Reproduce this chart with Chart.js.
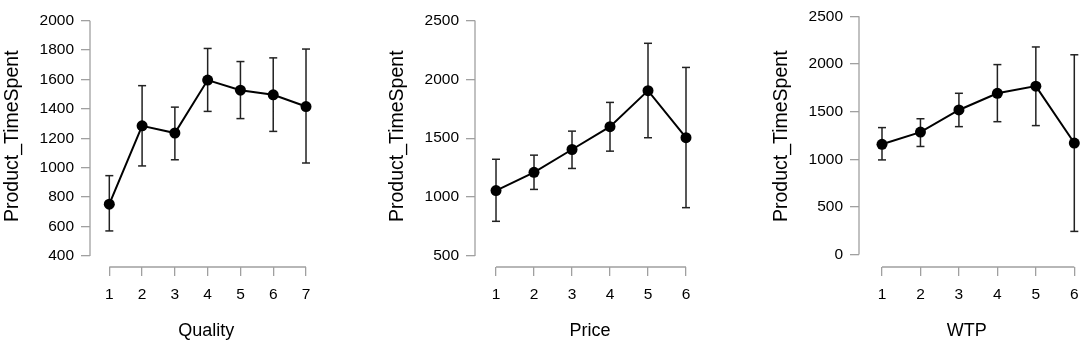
<!DOCTYPE html>
<html>
<head>
<meta charset="utf-8">
<script src="https://cdn.jsdelivr.net/npm/chart.js@4/dist/chart.umd.min.js"></script>
<style>
  body { margin: 0; background: #fff; }
  .panel { position: absolute; top: 0; height: 342px; }
</style>
</head>
<body>
<div class="panel" style="left:0px"><canvas id="quality" width="360" height="342"></canvas></div>
<div class="panel" style="left:385px"><canvas id="price" width="370" height="342"></canvas></div>
<div class="panel" style="left:769px"><canvas id="wtp" width="315" height="342"></canvas></div>
<script>
// data: group means and error bar ends
const qualityLevels = [1, 2, 3, 4, 5, 6, 7];
const qualityMeans = [752, 1285, 1236, 1596, 1527, 1496, 1416];
const qualityLower = [570, 1012, 1054, 1383, 1334, 1247, 1032];
const qualityUpper = [946, 1558, 1412, 1811, 1722, 1747, 1807];
const qualityTicks = [400, 600, 800, 1000, 1200, 1400, 1600, 1800, 2000];

const priceLevels = [1, 2, 3, 4, 5, 6];
const priceMeans = [1055, 1210, 1404, 1598, 1904, 1504];
const priceLower = [794, 1065, 1243, 1390, 1504, 910];
const priceUpper = [1321, 1356, 1560, 1804, 2306, 2101];
const priceTicks = [500, 1000, 1500, 2000, 2500];

const wtpLevels = [1, 2, 3, 4, 5, 6];
const wtpMeans = [1157, 1285, 1517, 1692, 1767, 1170];
const wtpLower = [993, 1134, 1342, 1394, 1353, 243];
const wtpUpper = [1332, 1425, 1692, 1993, 2178, 2096];
const wtpTicks = [0, 500, 1000, 1500, 2000, 2500];

const yTitle = 'Product_TimeSpent';
const axisGray = '#a0a0a0';

Chart.defaults.font.family = '"Liberation Sans", Arial, sans-serif';
Chart.defaults.color = '#000';

// R style axis: the line only runs from first to last tick
const axisLines = {
  id: 'axisLines',
  beforeDatasetsDraw(chart) {
    const { ctx, chartArea, scales: { x, y } } = chart;
    const xt = x.ticks, yt = y.ticks;
    ctx.save();
    ctx.strokeStyle = axisGray;
    ctx.lineWidth = 1.3;
    ctx.beginPath();
    ctx.moveTo(chartArea.left, y.getPixelForValue(yt[0].value));
    ctx.lineTo(chartArea.left, y.getPixelForValue(yt[yt.length - 1].value));
    ctx.moveTo(x.getPixelForValue(xt[0].value), chartArea.bottom);
    ctx.lineTo(x.getPixelForValue(xt[xt.length - 1].value), chartArea.bottom);
    ctx.stroke();
    ctx.restore();
  }
};

function makePanel(id, levels, means, lower, upper, yTicks, xTitle, lay) {
  // error bars: one dataset, each bar a two point segment split by a gap
  const errData = [];
  levels.forEach((v, i) => {
    errData.push({ x: v, y: lower[i] }, { x: v, y: upper[i] }, { x: v, y: null });
  });

  return new Chart(document.getElementById(id), {
    type: 'line',
    data: {
      datasets: [{
        data: levels.map((v, i) => ({ x: v, y: means[i] })),
        borderColor: '#000',
        borderWidth: 2,
        pointRadius: 5.5,
        pointBackgroundColor: '#000',
        pointBorderWidth: 0,
        tension: 0,
        clip: false,
        order: 0
      }, {
        data: errData,
        borderColor: '#222',
        borderWidth: 1.5,
        spanGaps: false,
        pointStyle: 'line',
        pointRadius: 4,
        pointBorderColor: '#222',
        pointBorderWidth: 1.5,
        clip: false,
        order: 1
      }]
    },
    options: {
      responsive: false,
      animation: false,
      devicePixelRatio: 1,
      layout: { padding: { left: 0, top: 0, bottom: 0, right: lay.padRight } },
      plugins: { legend: { display: false }, tooltip: { enabled: false } },
      scales: {
        x: {
          type: 'linear',
          min: lay.xMin,
          max: lay.xMax,
          afterBuildTicks: s => { s.ticks = levels.map(v => ({ value: v })); },
          afterFit: s => { s.height = 75; s.paddingLeft = 0; s.paddingRight = 0; },
          ticks: { font: { size: 15.5 }, padding: 9, maxRotation: 0, autoSkip: false, callback: v => String(v) },
          grid: { drawOnChartArea: false, drawTicks: true, tickLength: 9, color: axisGray, lineWidth: 1.3 },
          border: { display: false },
          title: { display: true, text: xTitle, font: { size: 18 }, padding: { top: 1, bottom: 0 } }
        },
        y: {
          min: lay.yMin,
          max: lay.yMax,
          afterBuildTicks: s => { s.ticks = yTicks.map(v => ({ value: v })); },
          afterFit: s => { s.width = 90; s.paddingTop = 0; s.paddingBottom = 0; },
          ticks: { font: { size: 15.5 }, padding: 7, autoSkip: false, callback: v => String(v) },
          grid: { drawOnChartArea: false, drawTicks: true, tickLength: 9, color: axisGray, lineWidth: 1.3 },
          border: { display: false },
          title: { display: true, text: yTitle, font: { size: 19.5 }, padding: { top: 0.8, bottom: 0 } }
        }
      }
    },
    plugins: [axisLines]
  });
}

makePanel('quality', qualityLevels, qualityMeans, qualityLower, qualityUpper, qualityTicks, 'Quality',
  { xMin: 0.411, xMax: 7.5, padRight: 37.6, yMin: 324.7, yMax: 2103.2 });
makePanel('price', priceLevels, priceMeans, priceLower, priceUpper, priceTicks, 'Price',
  { xMin: 0.447, xMax: 6.5, padRight: 50, yMin: 406, yMax: 2627 });
makePanel('wtp', wtpLevels, wtpMeans, wtpLower, wtpUpper, wtpTicks, 'WTP',
  { xMin: 0.402, xMax: 6, padRight: 9.7, yMin: -130.5, yMax: 2613 });
</script>
</body>
</html>
